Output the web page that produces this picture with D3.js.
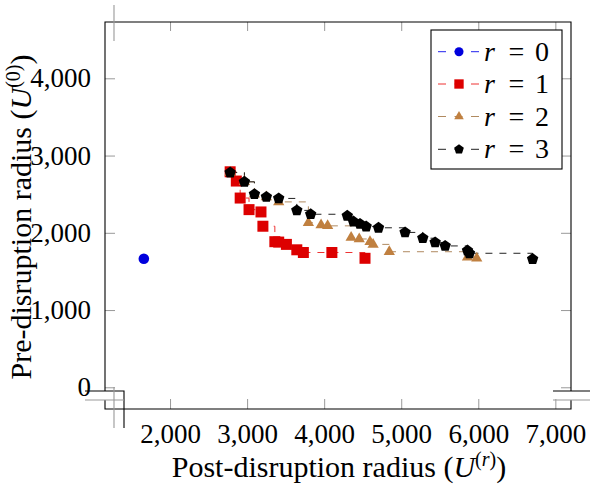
<!DOCTYPE html>
<html>
<head>
<meta charset="utf-8">
<script src="https://cdn.jsdelivr.net/npm/d3@7"></script>
<style>
  body { margin: 0; background: #fff; }
  text { font-family: "Liberation Serif", "DejaVu Serif", serif; }
</style>
</head>
<body>
<script>
// values (post-disruption radius, pre-disruption radius)
var r0X = [1660];
var r0Y = [1665];

var r1X = [2780, 2860, 2910, 3025, 3180, 3205, 3360, 3410, 3510, 3645, 3730, 4100, 4530];
var r1Y = [2790, 2670, 2450, 2300, 2270, 2085, 1885, 1880, 1850, 1780, 1745, 1745, 1670];

var r2X = [2780, 2965, 3095, 3250, 3410, 3795, 3960, 4045, 4350, 4455, 4595, 4635, 4845, 5860, 5980];
var r2Y = [2780, 2660, 2500, 2465, 2400, 2130, 2100, 2090, 1940, 1920, 1885, 1850, 1755, 1685, 1670];

var r3X = [2780, 2965, 3095, 3250, 3410, 3645, 3825, 4300, 4380, 4465, 4545, 4705,
           5050, 5280, 5440, 5570, 5860, 5885, 6705];
var r3Y = [2780, 2660, 2500, 2465, 2445, 2290, 2240, 2220, 2145, 2115, 2080, 2065,
           2005, 1930, 1875, 1830, 1770, 1735, 1660];

var xTicks = [2000, 3000, 4000, 5000, 6000, 7000];
var yTicks = [0, 1000, 2000, 3000, 4000];
var seriesNames = ["0", "1", "2", "3"];

var W = 590, H = 491;
var pL = 105, pR = 571, pT = 22, pB = 409;

var x = d3.scaleLinear().domain([1156, 7203]).range([pL, pR]);
var y = d3.scaleLinear().domain([-281, 4729]).range([pB, pT]);

var svg = d3.select("body").append("svg")
    .attr("width", W)
    .attr("height", H);

function zip(xs, ys) {
  return xs.map(function(v, i) { return [v, ys[i]]; });
}

// marker shapes
function pentagon(r) {
  var p = [];
  for (var i = 0; i < 5; i++) {
    var a = -Math.PI / 2 + i * 2 * Math.PI / 5;
    p.push([r * Math.cos(a), r * Math.sin(a)]);
  }
  return "M" + p.join("L") + "Z";
}
function triangle(r) {
  var p = [];
  for (var i = 0; i < 3; i++) {
    var a = -Math.PI / 2 + i * 2 * Math.PI / 3;
    p.push([r * Math.cos(a), r * Math.sin(a)]);
  }
  return "M" + p.join("L") + "Z";
}
function square(h) {
  return "M" + [[-h, -h], [h, -h], [h, h], [-h, h]].join("L") + "Z";
}
function circle(r) {
  return "M" + (-r) + ",0A" + r + "," + r + " 0 1,0 " + r + ",0A" + r + "," + r + " 0 1,0 " + (-r) + ",0Z";
}

var series = [
  {pts: zip(r0X, r0Y), color: "#0000dd", line: "#2222ee", mark: function(s) { return circle(5.3 * s); }},
  {pts: zip(r1X, r1Y), color: "#dd0000", line: "#ee3333", mark: function(s) { return square(5.5 * s); }},
  {pts: zip(r2X, r2Y), color: "#c08040", line: "#b08a60", mark: function(s) { return triangle(6.5 * s); }},
  {pts: zip(r3X, r3Y), color: "#000000", line: "#222222", mark: function(s) { return pentagon(6 * s); }}
];

// ticks, inward on all four sides
var tickCol = "#999";
svg.append("g")
    .attr("transform", "translate(0," + pB + ")")
    .call(d3.axisBottom(x).tickValues(xTicks).tickSizeInner(-10).tickSizeOuter(0)
      .tickPadding(15).tickFormat(d3.format(",")))
    .call(function(g) {
      g.select(".domain").remove();
      g.selectAll("line").attr("stroke", tickCol);
      g.selectAll("text").attr("font-size", 27).attr("fill", "#000")
        .attr("font-family", "Liberation Serif, DejaVu Serif, serif");
    });
svg.append("g")
    .attr("transform", "translate(0," + pT + ")")
    .call(d3.axisTop(x).tickValues(xTicks).tickSizeInner(-9).tickSizeOuter(0).tickFormat(""))
    .call(function(g) {
      g.select(".domain").remove();
      g.selectAll("line").attr("stroke", tickCol);
    });
svg.append("g")
    .attr("transform", "translate(" + pL + ",0)")
    .call(d3.axisLeft(y).tickValues(yTicks).tickSizeInner(-10).tickSizeOuter(0)
      .tickPadding(14).tickFormat(d3.format(",")))
    .call(function(g) {
      g.select(".domain").remove();
      g.selectAll("line").attr("stroke", tickCol);
      g.selectAll("text").attr("font-size", 27).attr("fill", "#000")
        .attr("font-family", "Liberation Serif, DejaVu Serif, serif");
    });
svg.append("g")
    .attr("transform", "translate(" + pR + ",0)")
    .call(d3.axisRight(y).tickValues(yTicks).tickSizeInner(-10).tickSizeOuter(0).tickFormat(""))
    .call(function(g) {
      g.select(".domain").remove();
      g.selectAll("line").attr("stroke", tickCol);
    });

// frame with the axis break marks
var frame = svg.append("g").attr("fill", "none").attr("stroke", "#000").attr("stroke-width", 1.1);
var gapTop = 391, gapBot = 400;
frame.append("path").attr("d",
  "M" + pL + "," + gapTop + "V" + pT + "H" + pR + "V" + gapTop +
  "M" + pL + "," + gapBot + "V" + pB + "H" + pR + "V" + gapBot);
frame.append("path").attr("d",
  "M85," + gapTop + "H124V428" +
  "M553," + gapTop + "H590");
frame.append("path").attr("stroke", "#999").attr("d",
  "M85," + gapBot + "H124" +
  "M553," + gapBot + "H590" +
  "M114,387V428" +
  "M114,5V41");

// plots: constant (step) lines, dashed
var line = d3.line()
    .x(function(d) { return x(d[0]); })
    .y(function(d) { return y(d[1]); })
    .curve(d3.curveStepAfter);

var plots = svg.append("g");
series.forEach(function(s) {
  plots.append("path")
      .attr("d", line(s.pts))
      .attr("fill", "none")
      .attr("stroke", s.line)
      .attr("stroke-width", 1)
      .attr("stroke-dasharray", "7,7");
});
series.forEach(function(s) {
  plots.selectAll(null)
      .data(s.pts)
    .enter().append("path")
      .attr("transform", function(d) { return "translate(" + x(d[0]) + "," + y(d[1]) + ")"; })
      .attr("d", s.mark(1))
      .attr("fill", s.color);
});

// legend
var leg = svg.append("g");
leg.append("rect")
    .attr("x", 431).attr("y", 30)
    .attr("width", 131).attr("height", 139)
    .attr("fill", "#fff").attr("stroke", "#000").attr("stroke-width", 1.1);
var rows = [51.7, 84, 116.5, 149.3];
series.forEach(function(s, i) {
  var g = leg.append("g").attr("transform", "translate(0," + rows[i] + ")");
  g.append("line")
      .attr("x1", 438).attr("x2", 479)
      .attr("stroke", s.line).attr("stroke-width", 1)
      .attr("stroke-dasharray", "8,8.5");
  g.append("path")
      .attr("transform", "translate(459,0)")
      .attr("d", s.mark(0.85))
      .attr("fill", s.color);
  g.append("text").attr("x", 484).attr("y", 9)
      .attr("font-size", 28).attr("font-style", "italic").text("r");
  g.append("text").attr("x", 516.5).attr("y", 9).attr("text-anchor", "middle")
      .attr("font-size", 28).text("=");
  g.append("text").attr("x", 542).attr("y", 9).attr("text-anchor", "middle")
      .attr("font-size", 28).text(seriesNames[i]);
});

// axis labels
var xl = svg.append("text")
    .attr("x", 339).attr("y", 477)
    .attr("text-anchor", "middle")
    .attr("font-size", 30);
xl.append("tspan").text("Post-disruption radius (");
xl.append("tspan").attr("font-style", "italic").text("U");
xl.append("tspan").attr("font-size", 20).attr("dy", -11).text("(");
xl.append("tspan").attr("font-size", 20).attr("font-style", "italic").text("r");
xl.append("tspan").attr("font-size", 20).text(")");
xl.append("tspan").attr("dy", 11).text(")");

var yl = svg.append("text")
    .attr("transform", "translate(31,217)rotate(-90)")
    .attr("text-anchor", "middle")
    .attr("font-size", 30);
yl.append("tspan").text("Pre-disruption radius (");
yl.append("tspan").attr("font-style", "italic").text("U");
yl.append("tspan").attr("font-size", 20).attr("dy", -11).text("(0)");
yl.append("tspan").attr("dy", 11).text(")");
</script>
</body>
</html>
